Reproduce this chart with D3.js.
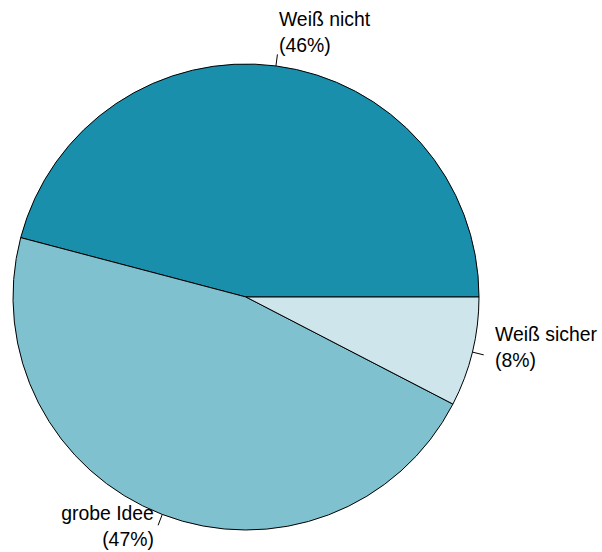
<!DOCTYPE html>
<html>
<head>
<meta charset="utf-8">
<script src="https://cdn.jsdelivr.net/npm/d3@7"></script>
<style>
  body { margin: 0; background: #fff; }
  svg text { font-family: "Liberation Sans", Arial, sans-serif; font-size: 19.4px; fill: #000; }
</style>
</head>
<body>
<div id="chart"></div>
<script>
// slices in R order (counterclockwise from 3 o'clock)
const categories = ["Weiß nicht", "grobe Idee", "Weiß sicher"];
const shares = [45.9, 46.5, 7.6];
const pctLabels = ["(46%)", "(47%)", "(8%)"];
const colors = ["#1a8fab", "#80c1d0", "#cee5eb"];

const width = 602, height = 552;
const cx = 246, cy = 297, r = 233;

const svg = d3.select('#chart').append('svg')
    .attr('width', width)
    .attr('height', height);

const g = svg.append('g')
    .attr('transform', 'translate(' + cx + ',' + cy + ')');

// counterclockwise from east: start at pi/2, go negative
const pie = d3.pie()
    .sort(null)
    .value(d => d)
    .startAngle(Math.PI / 2)
    .endAngle(Math.PI / 2 - 2 * Math.PI);

const arcs = pie(shares);

const arc = d3.arc().innerRadius(0).outerRadius(r);

g.selectAll('path.slice')
    .data(arcs)
    .enter().append('path')
    .attr('class', 'slice')
    .attr('d', arc)
    .attr('fill', (d, i) => colors[i])
    .attr('stroke', '#000')
    .attr('stroke-width', 1);

const mid = d => (d.startAngle + d.endAngle) / 2;

// ticks from r to 1.05r
g.selectAll('line.tick')
    .data(arcs)
    .enter().append('line')
    .attr('x1', d => Math.sin(mid(d)) * r)
    .attr('y1', d => -Math.cos(mid(d)) * r)
    .attr('x2', d => Math.sin(mid(d)) * r * 1.05)
    .attr('y2', d => -Math.cos(mid(d)) * r * 1.05)
    .attr('stroke', '#000')
    .attr('stroke-width', 1);

// labels at 1.1r, left/right adjusted
const labels = g.selectAll('text.lab')
    .data(arcs)
    .enter().append('text')
    .attr('class', 'lab')
    .attr('text-anchor', d => Math.sin(mid(d)) < 0 ? 'end' : 'start')
    .attr('transform', d => 'translate(' + (Math.sin(mid(d)) * r * 1.1) + ',' + (-Math.cos(mid(d)) * r * 1.1) + ')');

labels.append('tspan')
    .attr('x', 0)
    .attr('y', -16.5)
    .text((d, i) => categories[i]);

labels.append('tspan')
    .attr('x', 0)
    .attr('y', 9.5)
    .text((d, i) => pctLabels[i]);
</script>
</body>
</html>
